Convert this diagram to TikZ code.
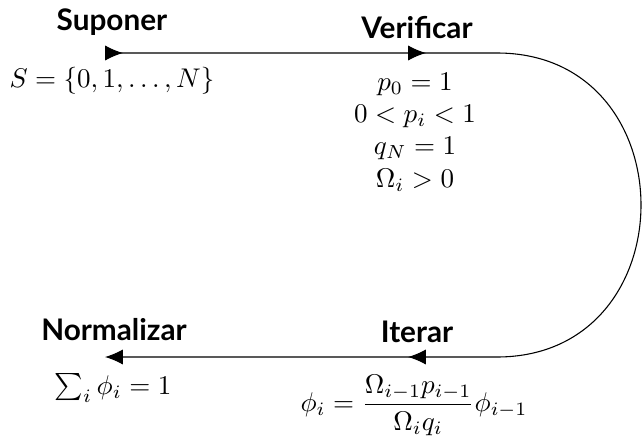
\documentclass[tikz,border=0pt]{standalone}
\usepackage{amsmath}
\usepackage{fontspec}
\setmainfont{Lato}
\usetikzlibrary{arrows.meta,calc}

\begin{document}
\begin{tikzpicture}[
    x=0.37pt, y=-0.37pt,
    flow/.style={thin, draw=black},
    tip/.style={-{Latex[length=6.6pt, width=5.6pt]}, thin},
    stage/.style={font=\fontsize{11}{13}\selectfont\bfseries},
    cond/.style={align=center},
]
\useasboundingbox (0,0) rectangle (642,440);

% Points on the cycle
\coordinate (sup) at (114,53);
\coordinate (ver) at (417,53);
\coordinate (ite) at (417,357);
\coordinate (nor) at (114,357);
\coordinate (tr) at (497,53);
\coordinate (br) at (497,357);

% Stage names
\node[stage] (suponer) at (112,22) {Suponer};
\node[stage] (verificar) at (417,28) {Verificar};
\node[stage] (iterar) at (417,332) {Iterar};
\node[stage] (normalizar) at (114,330) {Normalizar};

% Conditions
\node (space) at (112,81) {$S = \{0, 1, \ldots, N\}$};
\node[cond] (checks) at (415,132) {$p_0 = 1$\\ $0 < p_i < 1$\\ $q_N = 1$\\ $\Omega_i > 0$};
\node (recur) at (414,405) {$\phi_i = \dfrac{\Omega_{i-1} p_{i-1}}{\Omega_i q_i}\phi_{i-1}$};
\node (norm) at (113,388) {$\sum_i \phi_i = 1$};

% Cycle
\draw[flow] ($(sup)+(-9,0)$) -- (tr) .. controls (689,53) and (689,357) .. (br) -- ($(nor)+(9,0)$);

% Arrow heads
\draw[tip] ($(sup)+(-9,0)$) -- ($(sup)+(9,0)$);
\draw[tip] ($(ver)+(-9,0)$) -- ($(ver)+(9,0)$);
\draw[tip] ($(ite)+(9,0)$) -- ($(ite)+(-9,0)$);
\draw[tip] ($(nor)+(9,0)$) -- ($(nor)+(-9,0)$);

\end{tikzpicture}
\end{document}
